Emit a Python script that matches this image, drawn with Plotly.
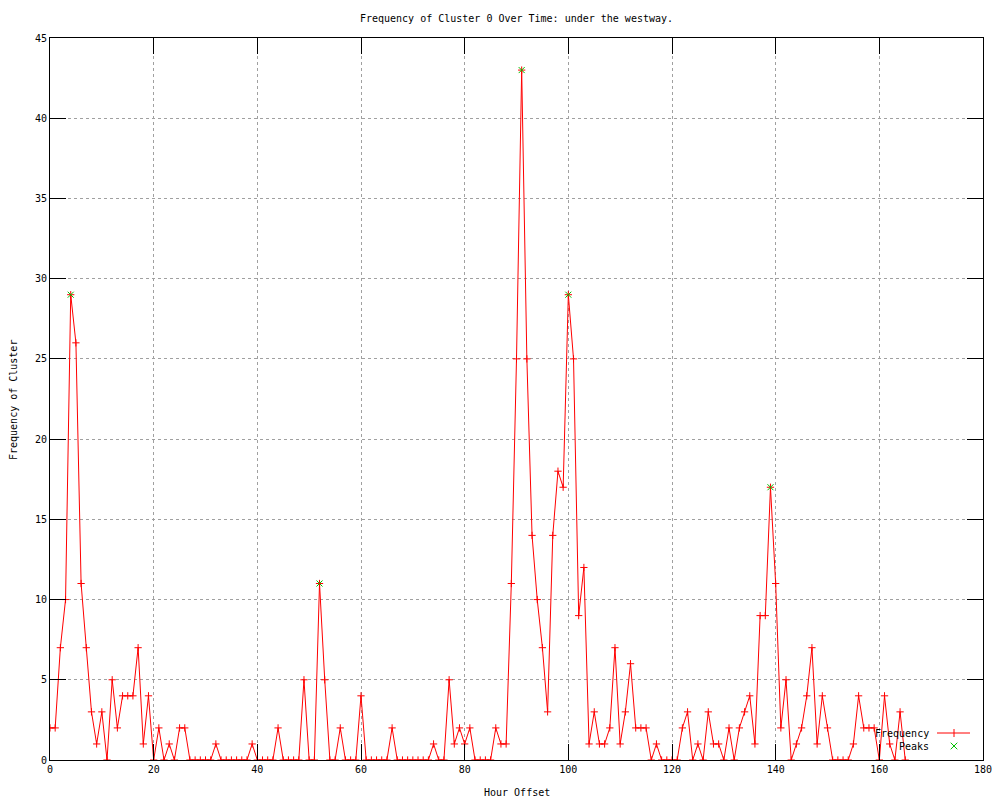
import plotly.graph_objects as go

hours = list(range(0, 166))
frequency = [
    2, 2, 7, 10, 29, 26, 11, 7, 3, 1,      # 0-9
    3, 0, 5, 2, 4, 4, 4, 7, 1, 4,          # 10-19
    0, 2, 0, 1, 0, 2, 2, 0, 0, 0,          # 20-29
    0, 0, 1, 0, 0, 0, 0, 0, 0, 1,          # 30-39
    0, 0, 0, 0, 2, 0, 0, 0, 0, 5,          # 40-49
    0, 0, 11, 5, 0, 0, 2, 0, 0, 0,         # 50-59
    4, 0, 0, 0, 0, 0, 2, 0, 0, 0,          # 60-69
    0, 0, 0, 0, 1, 0, 0, 5, 1, 2,          # 70-79
    1, 2, 0, 0, 0, 0, 2, 1, 1, 11,         # 80-89
    25, 43, 25, 14, 10, 7, 3, 14, 18, 17,  # 90-99
    29, 25, 9, 12, 1, 3, 1, 1, 2, 7,       # 100-109
    1, 3, 6, 2, 2, 2, 0, 1, 0, 0,          # 110-119
    0, 0, 2, 3, 0, 1, 0, 3, 1, 1,          # 120-129
    0, 2, 0, 2, 3, 4, 1, 9, 9, 17,         # 130-139
    11, 2, 5, 0, 1, 2, 4, 7, 1, 4,         # 140-149
    2, 0, 0, 0, 0, 1, 4, 2, 2, 2,          # 150-159
    0, 4, 1, 0, 3, 0,                      # 160-165
]
peak_hours = [4, 52, 91, 100, 139]
peak_values = [29, 11, 43, 29, 17]

x_ticks = [0, 20, 40, 60, 80, 100, 120, 140, 160, 180]
y_ticks = [0, 5, 10, 15, 20, 25, 30, 35, 40, 45]

title_text = "Frequency of Cluster 0 Over Time: under the westway."
x_label = "Hour Offset"
y_label = "Frequency of Cluster"
legend_names = ["Frequency", "Peaks"]

RED = "#ff0000"
GREEN = "#00c000"
FONT = "DejaVu Sans Mono"

# page has an 8px body margin; size the figure so the plot box lands on the
# reference's pixel box (50..983 x 38..760 in a 1000x800 window)
OFF = 8
W, H = 1000 - OFF, 800 - OFF
L, R, T, B = 50 - OFF, 17, 38 - OFF, 40
PW, PH = W - L - R, H - T - B

fig = go.Figure()
fig.add_trace(go.Scatter(
    x=hours, y=frequency, mode="lines+markers", name=legend_names[0],
    line=dict(color=RED, width=1),
    marker=dict(symbol="cross-thin", size=5.2, line=dict(color=RED, width=1), color=RED),
    showlegend=False,
))
fig.add_trace(go.Scatter(
    x=peak_hours, y=peak_values, mode="markers", name=legend_names[1],
    marker=dict(symbol="x-thin", size=6, line=dict(color=GREEN, width=1), color=GREEN),
    showlegend=False,
))

axis_common = dict(
    showline=True, linecolor="black", linewidth=1, mirror="ticks",
    ticks="inside", ticklen=16, tickcolor="black", tickwidth=1,
    showgrid=True, gridcolor="#a0a0a0", griddash="dot", gridwidth=1,
    zeroline=False, automargin=False,
    tickfont=dict(family=FONT, size=10, color="black"),
)

fig.update_xaxes(range=[0, 180], tickvals=x_ticks, ticktext=[str(v) for v in x_ticks], **axis_common)
fig.update_yaxes(range=[0, 45], tickvals=y_ticks, ticktext=[str(v) for v in y_ticks], **axis_common)

def px_x(px):
    return (px - 50) / PW

def px_y(py):
    return (760 - py) / PH

annotations = [
    dict(xref="paper", yref="paper", x=px_x(516.5), y=px_y(793), text=x_label, showarrow=False,
         xanchor="center", yanchor="middle", font=dict(family=FONT, size=10, color="black")),
    dict(xref="paper", yref="paper", x=px_x(13), y=px_y(400), text=y_label, showarrow=False,
         textangle=-90, xanchor="center", yanchor="middle", font=dict(family=FONT, size=10, color="black")),
]

# gnuplot-style key: label right-aligned, sample to its right
rows_y = [px_y(733), px_y(746)]
for name, yy in zip(legend_names, rows_y):
    annotations.append(dict(xref="paper", yref="paper", x=px_x(931), y=yy, text=name,
                            showarrow=False, xanchor="right", yanchor="middle",
                            font=dict(family=FONT, size=10, color="black")))

cx = px_x(954)
ax = 4 / PW
ay = 4 / PH
gx = 3.3 / PW
gy = 3.3 / PH
shapes = [
    dict(type="line", xref="paper", yref="paper", x0=px_x(937), x1=px_x(970),
         y0=rows_y[0], y1=rows_y[0], line=dict(color=RED, width=1)),
    dict(type="line", xref="paper", yref="paper", x0=cx, x1=cx,
         y0=rows_y[0] - ay, y1=rows_y[0] + ay, line=dict(color=RED, width=1)),
    dict(type="line", xref="paper", yref="paper", x0=cx - gx, x1=cx + gx,
         y0=rows_y[1] - gy, y1=rows_y[1] + gy, line=dict(color=GREEN, width=1)),
    dict(type="line", xref="paper", yref="paper", x0=cx - gx, x1=cx + gx,
         y0=rows_y[1] + gy, y1=rows_y[1] - gy, line=dict(color=GREEN, width=1)),
]

fig.update_layout(
    width=W, height=H,
    margin=dict(l=L, r=R, t=T, b=B, autoexpand=False),
    paper_bgcolor="white", plot_bgcolor="white",
    title=dict(text=title_text, x=px_x(516.5), xref="paper", xanchor="center",
               yref="container", y=1 - (18 - OFF) / H, yanchor="middle",
               font=dict(family=FONT, size=10, color="black")),
    shapes=shapes, annotations=annotations,
    showlegend=False,
)

fig.write_html("out.html")
